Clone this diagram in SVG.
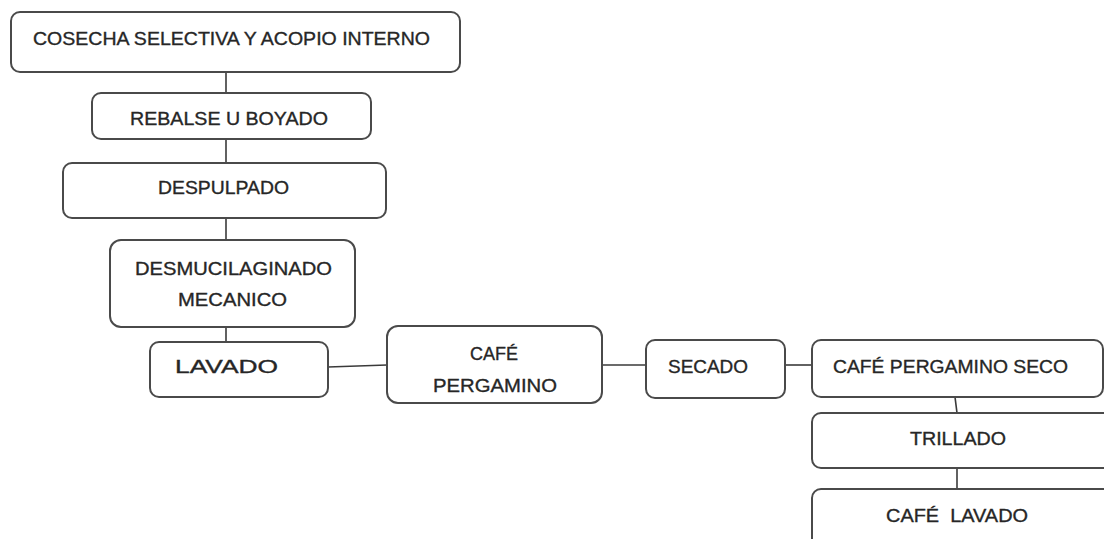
<svg xmlns="http://www.w3.org/2000/svg" width="1104" height="539" viewBox="0 0 1104 539">
<style>
.box{fill:#fff;stroke:#4a4a4a;stroke-width:2}
.t{font-family:"Liberation Sans",Arial,sans-serif;font-size:19px;fill:#262626;stroke:#262626;stroke-width:0.35}
.c{stroke:#3a3a3a;stroke-width:1.6;fill:none}
</style>
<rect width="1104" height="539" fill="#fff"/>
<g id="connectors">
<line class="c" x1="226" y1="72" x2="226" y2="93"/>
<line class="c" x1="226" y1="139" x2="226" y2="163"/>
<line class="c" x1="226" y1="218" x2="226" y2="240"/>
<line class="c" x1="226" y1="327" x2="226" y2="342"/>
<line class="c" x1="328" y1="367" x2="387" y2="365"/>
<line class="c" x1="602" y1="365" x2="646" y2="365"/>
<line class="c" x1="785" y1="365" x2="812" y2="365"/>
<line class="c" x1="955" y1="397" x2="957" y2="413"/>
<line class="c" x1="957" y1="468" x2="957" y2="489"/>
</g>
<g id="n1"><rect class="box" x="11" y="12" width="449" height="60" rx="9"/><text class="t" x="33" y="45" textLength="397" lengthAdjust="spacingAndGlyphs">COSECHA SELECTIVA Y ACOPIO INTERNO</text></g>
<g id="n2"><rect class="box" x="92" y="93" width="279" height="46" rx="9"/><text class="t" x="130" y="125" textLength="198" lengthAdjust="spacingAndGlyphs">REBALSE U BOYADO</text></g>
<g id="n3"><rect class="box" x="63" y="163" width="323" height="55" rx="9"/><text class="t" x="158" y="194" textLength="131" lengthAdjust="spacingAndGlyphs">DESPULPADO</text></g>
<g id="n4"><rect class="box" x="110" y="240" width="245" height="87" rx="11"/><text class="t" x="135" y="275" textLength="197" lengthAdjust="spacingAndGlyphs">DESMUCILAGINADO</text><text class="t" x="178" y="306" textLength="109" lengthAdjust="spacingAndGlyphs">MECANICO</text></g>
<g id="n5"><rect class="box" x="150" y="342" width="178" height="55" rx="9"/><text class="t" x="175" y="373" textLength="103" lengthAdjust="spacingAndGlyphs">LAVADO</text></g>
<g id="n6"><rect class="box" x="387" y="326" width="215" height="77" rx="11"/><text class="t" x="470" y="360" textLength="48" lengthAdjust="spacingAndGlyphs">CAFÉ</text><text class="t" x="433" y="392" textLength="124" lengthAdjust="spacingAndGlyphs">PERGAMINO</text></g>
<g id="n7"><rect class="box" x="646" y="340" width="139" height="58" rx="9"/><text class="t" x="668" y="373" textLength="80" lengthAdjust="spacingAndGlyphs">SECADO</text></g>
<g id="n8"><rect class="box" x="812" y="340" width="291" height="57" rx="9"/><text class="t" x="833" y="373" textLength="235" lengthAdjust="spacingAndGlyphs">CAFÉ PERGAMINO SECO</text></g>
<g id="n9"><rect class="box" x="812" y="413" width="300" height="55" rx="9"/><text class="t" x="910" y="445" textLength="96" lengthAdjust="spacingAndGlyphs">TRILLADO</text></g>
<g id="n10"><rect class="box" x="812" y="489" width="300" height="70" rx="9"/><text class="t" x="886" y="522" textLength="142" lengthAdjust="spacingAndGlyphs" xml:space="preserve">CAFÉ  LAVADO</text></g>
</svg>
